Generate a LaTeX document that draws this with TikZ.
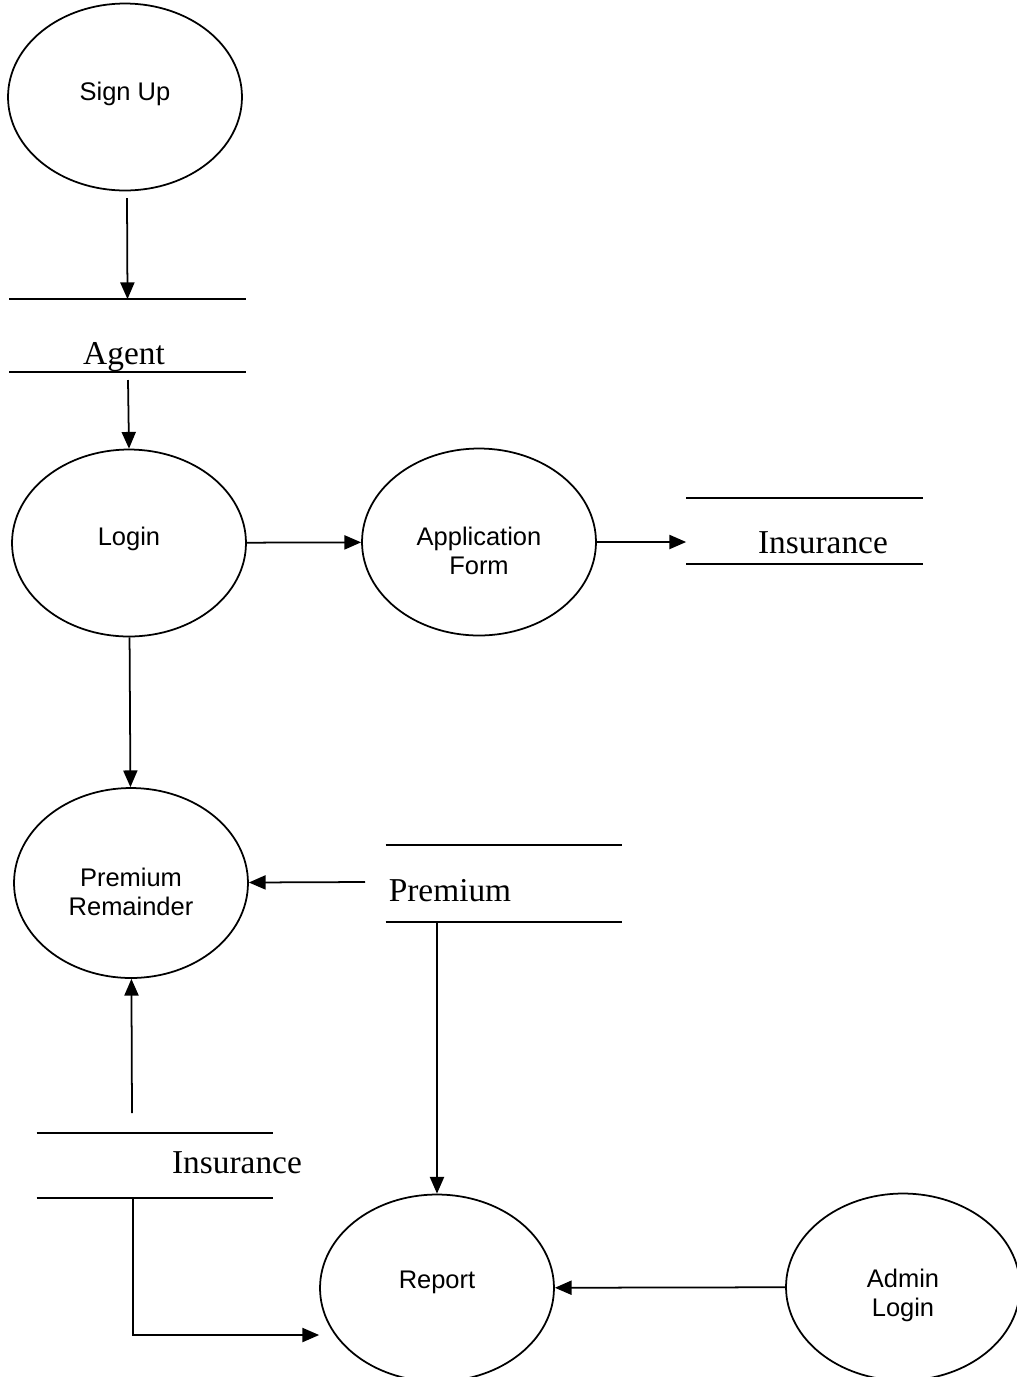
\documentclass[tikz,border=0pt]{standalone}
\usepackage{fontspec}
\setmainfont{Liberation Serif}
\setsansfont{Liberation Sans}
\usetikzlibrary{shapes.geometric}
\usetikzlibrary{arrows.meta}

\begin{document}
\begin{tikzpicture}[x=0.02cm,y=-0.02cm,line width=1pt,
proc/.style={draw,ellipse,minimum width=4.68cm,minimum height=3.74cm,inner sep=0pt},
ptext/.style={inner sep=0pt,align=center,font=\sffamily\fontsize{14.5}{16.5}\selectfont},
store/.style={inner sep=0pt,minimum width=4.7cm},
lbl/.style={inner sep=0pt,font=\rmfamily\fontsize{19}{22}\selectfont},
flow/.style={-{Triangle[length=9.5pt,width=8pt]}}]
\useasboundingbox (0,0) rectangle (1017,1377);
\clip (0,0) rectangle (1017,1377);
\draw
(125,97) node[proc,label={[ptext,yshift=0.06cm]center:Sign Up}](signup){}
(129,543) node[proc,label={[ptext,yshift=0.08cm]center:Login}](login){}
(479,542) node[proc,label={[ptext,yshift=-0.17cm]center:Application\\Form}](appform){}
(131,883) node[proc,minimum height=3.8cm,label={[ptext,yshift=-0.17cm]center:Premium\\Remainder}](premrem){}
(437,1288) node[proc,label={[ptext,yshift=0.12cm]center:Report}](report){}
(903,1287) node[proc,label={[ptext,yshift=-0.16cm]center:Admin\\Login}](admin){}
;
\path
(127.5,335.5) node[store,minimum height=1.42cm](agent){}
(804.5,531) node[store,minimum height=1.28cm](ins1){}
(504,883.5) node[store,minimum height=1.5cm](prem){}
(155,1165.5) node[store,minimum height=1.26cm](ins2){}
(124,357) node[lbl](agenttxt){Agent}
(823,543) node[lbl](ins1txt){Insurance}
(450,891) node[lbl](premtxt){Premium}
(237,1163) node[lbl](ins2txt){Insurance}
;
\foreach \s in {agent,ins1,prem,ins2}{
\draw (\s.north west)--(\s.north east) (\s.south west)--(\s.south east);
}
% free ends of the flows
\coordinate (signupout) at (127,198);
\coordinate (agentout) at (128,380);
\coordinate (premout) at (365,882);
\coordinate (ins2out) at (132,1113);
\coordinate (bend) at (133,1335);
\foreach \x/\y in {signupout/agent.north, agentout/login.north, login/appform, login/premrem,
premout/premrem, ins2out/premrem, admin/report}{
\draw[flow](\x)--(\y);
}
\draw[flow](appform)--(appform -| ins1.west);
\draw[flow](prem.south -| report.north)--(report.north);
\draw[flow](ins2.south -| bend)--(bend)--(bend -| report.west);
\end{tikzpicture}
\end{document}
